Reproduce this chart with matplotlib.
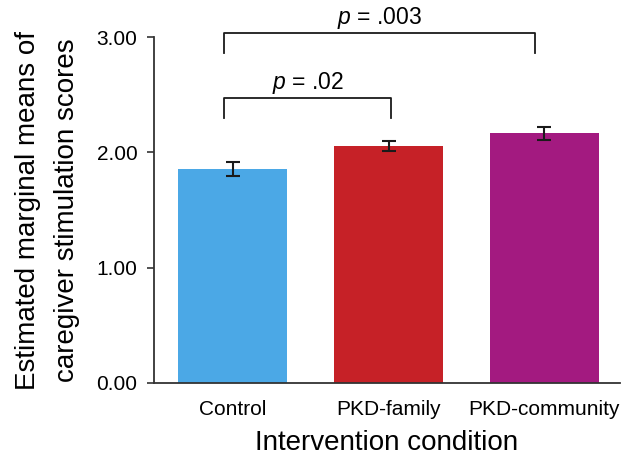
import matplotlib
matplotlib.use("Agg")
import matplotlib.pyplot as plt
import numpy as np

categories = ["Control", "PKD-family", "PKD-community"]
means = [1.856, 2.055, 2.165]
errors = [0.065, 0.04, 0.055]
colors = ["#4BA8E6", "#C62127", "#A31A80"]
yticks = [0.0, 1.0, 2.0, 3.0]
ytick_labels = ["0.00", "1.00", "2.00", "3.00"]
p_labels = ["p = .02", "p = .003"]

plt.rcParams['font.family'] = ['Liberation Sans', 'DejaVu Sans']
plt.rcParams['mathtext.fontset'] = 'custom'
plt.rcParams['mathtext.rm'] = 'Liberation Sans'
plt.rcParams['mathtext.it'] = 'Liberation Sans:italic'

fig = plt.figure(figsize=(6.21, 4.58), dpi=100)
ax = fig.add_axes([0.248, 0.1638, 0.75, 0.7552])

x = np.arange(len(categories))
ax.bar(x, means, width=0.70, color=colors, zorder=2)
ax.errorbar(x, means, yerr=errors, fmt='none', ecolor='#1a1a1a', elinewidth=1.5,
            capsize=5, capthick=1.5, zorder=3)

ax.set_xlim(-0.507, 2.485)
ax.set_ylim(0, 3.0)
ax.set_yticks(yticks)
ax.set_yticklabels(ytick_labels, fontsize=15)
ax.set_xticks(x)
ax.set_xticklabels(categories, fontsize=15)
ax.tick_params(axis='x', length=0, pad=12)
ax.tick_params(axis='y', length=5, width=1.2, direction='out', pad=7, color='#333333')
for s in ['top', 'right']:
    ax.spines[s].set_visible(False)
for s in ['left', 'bottom']:
    ax.spines[s].set_linewidth(1.3)
    ax.spines[s].set_color('#333333')

ax.set_xlabel("Intervention condition", fontsize=20, labelpad=8)
ax.set_ylabel("Estimated marginal means of\ncaregiver stimulation scores", fontsize=20,
              labelpad=12, linespacing=1.62)

# significance brackets (category index based)
def bracket(i0, i1, off0, off1, ytop, ybot, label):
    xa, xb = i0 + off0, i1 + off1
    ax.plot([xa, xa, xb, xb], [ybot, ytop, ytop, ybot], color='#1a1a1a', lw=1.3,
            clip_on=False, zorder=4)
    ax.text((xa + xb) / 2, ytop + 0.075, label, ha='center', va='baseline', fontsize=16.5,
            clip_on=False)

def plabel(s):
    return r"$\it{p}$" + s[1:]

bracket(0, 1, -0.056, 0.018, 2.474, 2.30, plabel(p_labels[0]))
bracket(0, 2, -0.056, -0.06, 3.038, 2.865, plabel(p_labels[1]))

fig.savefig("out.png", dpi=100)
